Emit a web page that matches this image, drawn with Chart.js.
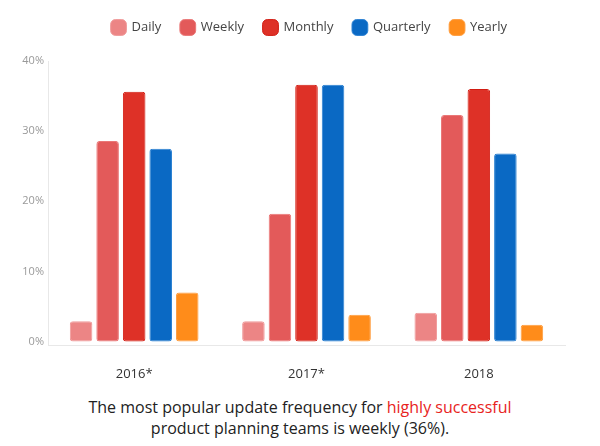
<!DOCTYPE html>
<html>
<head>
<meta charset="utf-8">
<script src="https://cdn.jsdelivr.net/npm/chart.js@4"></script>
<style>
  html, body { margin: 0; padding: 0; background: #fff; }
  #wrap { position: relative; width: 600px; height: 446px; }
  #box { position: absolute; left: 0; top: 0; width: 600px; height: 392px; }
  #caption {
    position: absolute; left: 0; top: 397px; width: 600px;
    text-align: center; font-family: "Open Sans", sans-serif;
    font-size: 16px; line-height: 21px; color: #222;
  }
  #caption span { color: #e8231d; }
</style>
</head>
<body>
<div id="wrap">
  <div id="box"><canvas id="chart"></canvas></div>
  <div id="caption">The most popular update frequency for <span>highly successful</span><br>product planning teams is weekly (36%).</div>
</div>
<script>
// データ
const years = ['2016*', '2017*', '2018'];
const daily = [2.9, 2.9, 4.1];
const weekly = [28.6, 18.2, 32.3];
const monthly = [35.6, 36.6, 36.0];
const quarterly = [27.5, 36.6, 26.8];
const yearly = [7.0, 3.8, 2.4];
const yTicks = [0, 10, 20, 30, 40];

const font = '"Open Sans", sans-serif';

function ds(label, data, fill, border) {
	return {
		label: label,
		data: data,
		backgroundColor: fill,
		borderColor: border,
		borderWidth: 1,
		borderRadius: 3,
		borderSkipped: false,
		barPercentage: 0.85,
		categoryPercentage: 0.77
	};
}

// 凡例の下に余白を追加し、少し右へずらす
const legendTweak = {
	id: 'legendTweak',
	beforeInit(chart) {
		const fit = chart.legend.fit;
		chart.legend.fit = function() {
			fit.bind(chart.legend)();
			this.height += 18;
		};
	},
	afterLayout(chart) {
		chart.legend.left += 27;
		chart.legend.right += 27;
		chart.legend.top += 1;
		chart.legend.bottom += 1;
	}
};

new Chart(document.getElementById('chart'), {
	type: 'bar',
	data: {
		labels: years,
		datasets: [
			ds('Daily', daily, '#ec8585', '#f09a9a'),
			ds('Weekly', weekly, '#e35a5a', '#ea7777'),
			ds('Monthly', monthly, '#de3127', '#d11c12'),
			ds('Quarterly', quarterly, '#0a69c4', '#2a80d2'),
			ds('Yearly', yearly, '#ff8c1a', '#ff9d3e')
		]
	},
	options: {
		responsive: true,
		maintainAspectRatio: false,
		animation: false,
		layout: { padding: { left: 0, right: 35, top: 0, bottom: 0 } },
		plugins: {
			tooltip: { enabled: false },
			legend: {
				position: 'top',
				labels: {
					usePointStyle: true,
					pointStyle: 'rectRounded',
					boxWidth: 16,
					boxHeight: 16,
					padding: 20,
					color: '#444',
					font: { family: font, size: 13 }
				}
			}
		},
		scales: {
			x: {
				afterFit(scale) { scale.height = 47; },
				grid: { display: false, drawTicks: false },
				border: { display: true, color: '#e8e8e8' },
				ticks: { color: '#333', padding: 21, font: { family: font, size: 13 } }
			},
			y: {
				min: -0.5,
				max: 40,
				afterFit(scale) { scale.width = 48; },
				afterBuildTicks(scale) { scale.ticks = yTicks.map(v => ({ value: v })); },
				grid: { display: false, drawTicks: false },
				border: { display: true, color: '#e8e8e8' },
				ticks: {
					color: '#999',
					padding: 4,
					font: { family: font, size: 11 },
					callback: v => v + '%'
				}
			}
		}
	},
	plugins: [legendTweak]
});
</script>
</body>
</html>
